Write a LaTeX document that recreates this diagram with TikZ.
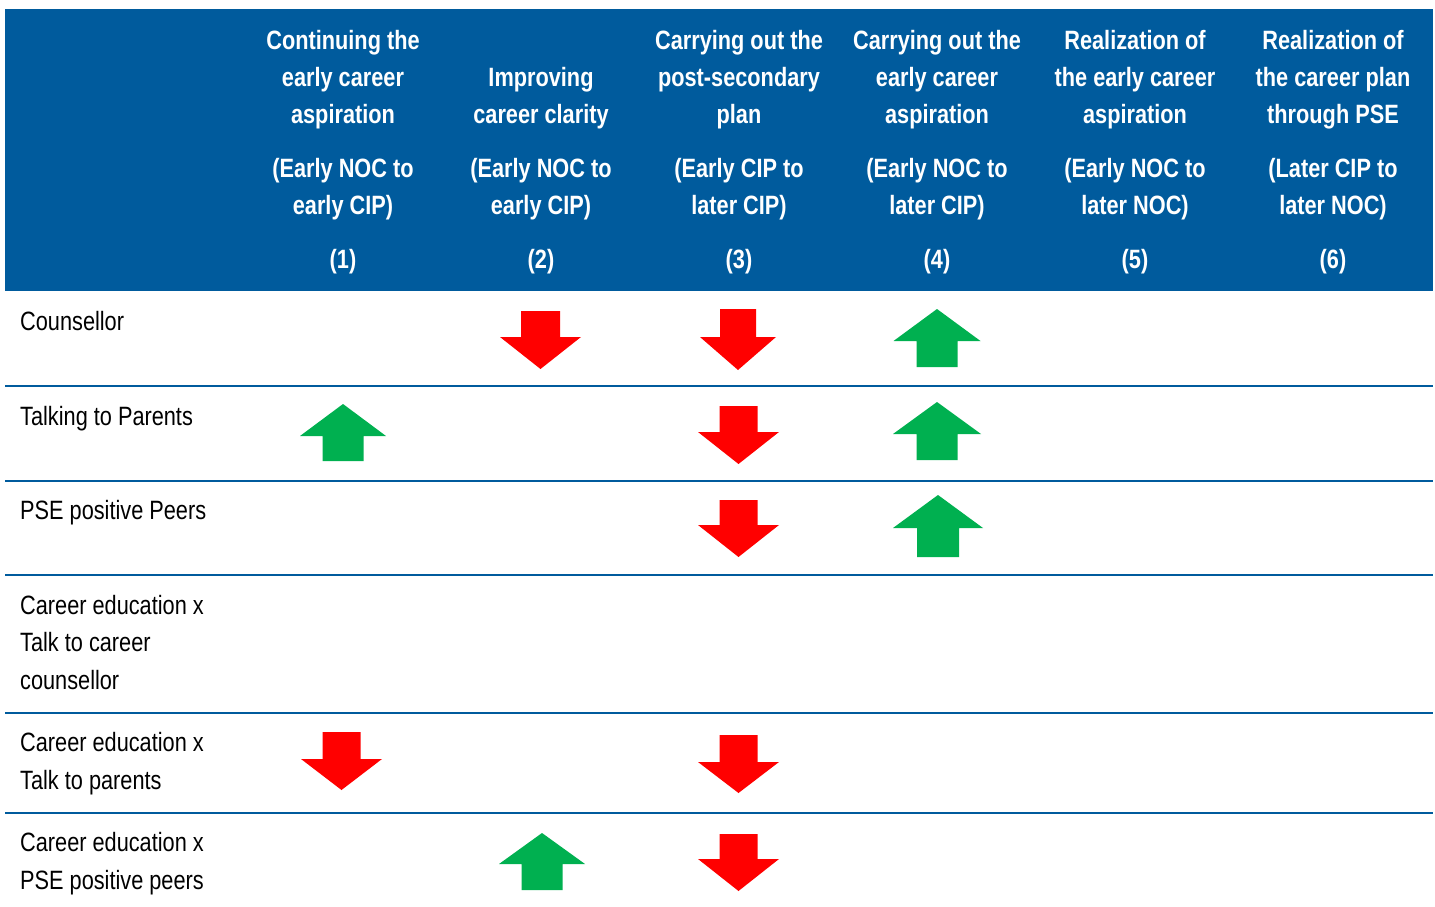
\documentclass[tikz,border=0pt]{standalone}
\usepackage{fontspec}
\setmainfont{Liberation Sans}[FakeStretch=0.82]
\definecolor{hdrblue}{RGB}{0,91,157}
\definecolor{upgreen}{RGB}{0,176,80}
\definecolor{dnred}{RGB}{255,0,0}
\tikzset{
  hdrtext/.style={anchor=base, inner sep=0pt, text=white, font=\fontsize{26.5}{37}\selectfont\bfseries},
  rowtext/.style={anchor=base west, inner sep=0pt, text=black, font=\fontsize{26.5}{37}\selectfont},
  rule/.style={draw=hdrblue, line width=2pt},
  downarrowfill/.style={fill=dnred},
  uparrowfill/.style={fill=upgreen}
}
% down arrow: center x, top y, bottom y, half width, half shaft, head height
\newcommand\DownArr[6]{%
  \fill[downarrowfill] (#1-#5,#2) -- (#1+#5,#2) -- (#1+#5,#3-#6) -- (#1+#4,#3-#6)
    -- (#1,#3) -- (#1-#4,#3-#6) -- (#1-#5,#3-#6) -- cycle;}
% up arrow: center x, top y, bottom y, half width, half shaft, head height
\newcommand\UpArr[6]{%
  \fill[uparrowfill] (#1-#5,#3) -- (#1+#5,#3) -- (#1+#5,#2+#6) -- (#1+#4,#2+#6)
    -- (#1,#2) -- (#1-#4,#2+#6) -- (#1-#5,#2+#6) -- cycle;}
\begin{document}
\begin{tikzpicture}[x=1pt,y=-1pt]
\useasboundingbox (0,0) rectangle (1435,907);
\fill[white] (0,0) rectangle (1435,907);
% header band
\fill[hdrblue] (5,9) rectangle (1433,291);
% column headings
\foreach \cx/\i/\a/\b/\c/\d/\e in {
  343/1/Continuing the/early career/aspiration/(Early NOC to/early CIP),
  541/2/{}/Improving/career clarity/(Early NOC to/early CIP),
  739/3/Carrying out the/post-secondary/plan/(Early CIP to/later CIP),
  937/4/Carrying out the/early career/aspiration/(Early NOC to/later CIP),
  1135/5/Realization of/the early career/aspiration/(Early NOC to/later NOC),
  1333/6/Realization of/the career plan/through PSE/(Later CIP to/later NOC)}{
  \node[hdrtext] (h\i a) at (\cx,49) {\a};
  \node[hdrtext] (h\i b) at (\cx,86) {\b};
  \node[hdrtext] (h\i c) at (\cx,123) {\c};
  \node[hdrtext] (h\i d) at (\cx,177) {\d};
  \node[hdrtext] (h\i e) at (\cx,214) {\e};
  \node[hdrtext] (h\i n) at (\cx,268) {(\i)};
}
% row rules
\foreach \y in {386,481,575,713,813}{
  \draw[rule] (5,\y) -- (1433,\y);
}
% row labels
\node[rowtext] (r1) at (20,330) {Counsellor};
\node[rowtext] (r2) at (20,425) {Talking to Parents};
\node[rowtext] (r3) at (20,519) {PSE positive Peers};
\node[rowtext] (r4a) at (20,614) {Career education x};
\node[rowtext] (r4b) at (20,651) {Talk to career};
\node[rowtext] (r4c) at (20,689) {counsellor};
\node[rowtext] (r5a) at (20,751) {Career education x};
\node[rowtext] (r5b) at (20,789) {Talk to parents};
\node[rowtext] (r6a) at (20,851) {Career education x};
\node[rowtext] (r6b) at (20,889) {PSE positive peers};
% arrows
% row 1
\DownArr{540.5}{311}{369}{40.5}{19.5}{32}
\DownArr{738}{309}{370}{38}{18}{33}
\UpArr{937}{309}{367}{43.5}{20.5}{32}
% row 2
\UpArr{343}{404}{461}{43}{20.5}{32}
\DownArr{738.5}{406}{464}{40.5}{19}{32}
\UpArr{937}{402}{460}{44}{20.5}{32}
% row 3
\DownArr{738.5}{500}{557}{40.5}{19}{32}
\UpArr{938}{495}{557}{45}{21}{33}
% row 5
\DownArr{341.5}{732}{790}{40.5}{19}{31}
\DownArr{738.5}{735}{793}{40.5}{19}{31}
% row 6
\UpArr{542}{833}{890}{43}{20.5}{31}
\DownArr{738.5}{834}{891}{40.5}{19}{32}
\end{tikzpicture}
\end{document}
